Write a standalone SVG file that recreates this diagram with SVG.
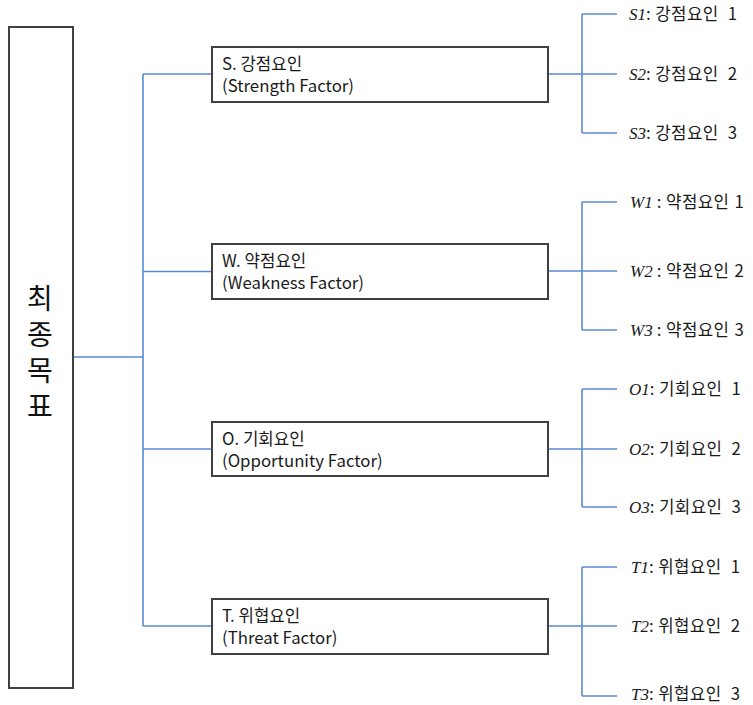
<svg xmlns="http://www.w3.org/2000/svg" width="753" height="705" viewBox="0 0 753 705">
<style>
.box{fill:#fff;stroke:#404040;stroke-width:2}
.ln{fill:none;stroke:#5B8BD3;stroke-width:1.6}
.t{font-family:"Noto Sans CJK KR","Noto Sans",sans-serif;font-size:16.8px;fill:#1a1a1a}
.lb{font-family:"Noto Sans CJK KR","Noto Sans",sans-serif;font-size:16.8px;letter-spacing:0.4px;fill:#1a1a1a}
.it{font-family:"Liberation Serif",serif;font-style:italic;font-size:17px;letter-spacing:0}
.goal{font-family:"Noto Sans CJK KR",sans-serif;font-size:28px;letter-spacing:8px;fill:#111;writing-mode:vertical-rl}
</style>
<rect width="753" height="705" fill="#fff"/>
<g id="connectors">
<path class="ln" d="M73 357H143M143 74V626M143 74H212M143 271.5H212M143 449H212M143 626H212"/>
<path class="ln" d="M548 74H582M582 14V133M582 14H617M582 74H617M582 133H617"/>
<path class="ln" d="M548 271H582M582 202V330M582 202H617M582 271H617M582 330H617"/>
<path class="ln" d="M548 449H582M582 389V507M582 389H617M582 449H617M582 507H617"/>
<path class="ln" d="M548 626H582M582 567V696M582 567H617M582 626H617M582 696H617"/>
</g>
<g id="goal">
<rect class="box" x="9" y="27" width="64" height="661"/>
<text class="goal" x="40" y="284">최종<tspan font-size="0.1" letter-spacing="0"> </tspan>목표</text>
</g>
<g id="S">
<rect class="box" x="212" y="47" width="336" height="55"/>
<text class="t" x="222" y="69.5">S. 강점요인</text>
<text class="t" x="222" y="91.5">(Strength Factor)</text>
</g>
<g id="W">
<rect class="box" x="212" y="244" width="336" height="55"/>
<text class="t" x="222" y="266.5">W. 약점요인</text>
<text class="t" x="222" y="288.5">(Weakness Factor)</text>
</g>
<g id="O">
<rect class="box" x="212" y="422" width="336" height="54"/>
<text class="t" x="222" y="444.5">O. 기회요인</text>
<text class="t" x="222" y="466.5">(Opportunity Factor)</text>
</g>
<g id="T">
<rect class="box" x="212" y="599" width="336" height="55"/>
<text class="t" x="222" y="621.5">T. 위협요인</text>
<text class="t" x="222" y="643.5">(Threat Factor)</text>
</g>
<g id="S1"><text class="lb" x="629" y="20"><tspan class="it">S1</tspan>: 강점요인 <tspan dx="5">1</tspan></text></g>
<g id="S2"><text class="lb" x="629" y="80"><tspan class="it">S2</tspan>: 강점요인 <tspan dx="5">2</tspan></text></g>
<g id="S3"><text class="lb" x="629" y="139"><tspan class="it">S3</tspan>: 강점요인 <tspan dx="5">3</tspan></text></g>
<g id="W1"><text class="lb" x="630" y="208"><tspan class="it">W1</tspan> : 약점요인 <tspan dx="1">1</tspan></text></g>
<g id="W2"><text class="lb" x="630" y="277"><tspan class="it">W2</tspan> : 약점요인 <tspan dx="1">2</tspan></text></g>
<g id="W3"><text class="lb" x="630" y="336"><tspan class="it">W3</tspan> : 약점요인 <tspan dx="1">3</tspan></text></g>
<g id="O1"><text class="lb" x="629" y="395"><tspan class="it">O1</tspan>: 기회요인 <tspan dx="5">1</tspan></text></g>
<g id="O2"><text class="lb" x="629" y="455"><tspan class="it">O2</tspan>: 기회요인 <tspan dx="5">2</tspan></text></g>
<g id="O3"><text class="lb" x="629" y="513"><tspan class="it">O3</tspan>: 기회요인 <tspan dx="5">3</tspan></text></g>
<g id="T1"><text class="lb" x="631" y="573"><tspan class="it">T1</tspan>: 위협요인 <tspan dx="5">1</tspan></text></g>
<g id="T2"><text class="lb" x="631" y="632"><tspan class="it">T2</tspan>: 위협요인 <tspan dx="5">2</tspan></text></g>
<g id="T3"><text class="lb" x="631" y="700"><tspan class="it">T3</tspan>: 위협요인 <tspan dx="5">3</tspan></text></g>
</svg>
